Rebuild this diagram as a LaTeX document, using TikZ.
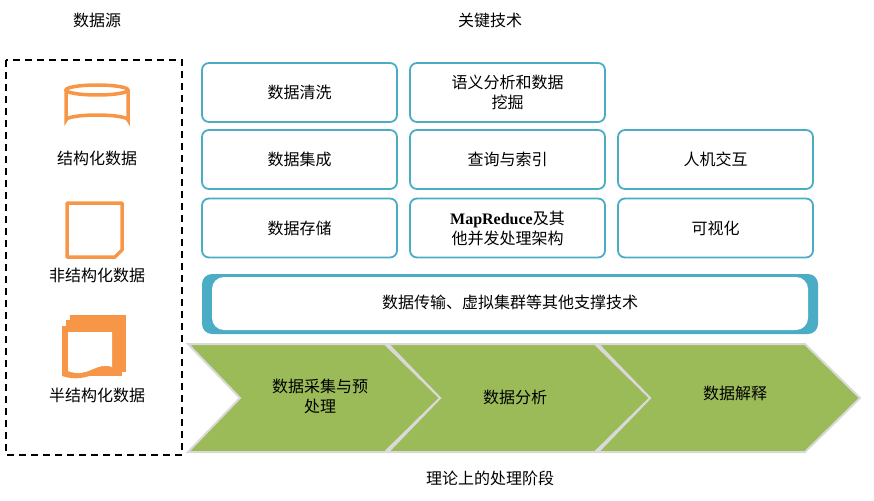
\documentclass[tikz,border=0pt]{standalone}
\usepackage{fontspec}
\setmainfont{Noto Sans CJK SC}
\newfontfamily\serifb{Liberation Serif}
\usetikzlibrary{shapes.geometric}
\definecolor{bl}{HTML}{4BACC6}
\definecolor{og}{HTML}{F79646}
\definecolor{gr}{HTML}{9BBB59}
\begin{document}
\begin{tikzpicture}[x=1pt,y=-1pt,font=\fontsize{16}{20}\selectfont,
  tbox/.style={draw=bl,line width=1.8pt,rounded corners=7pt,fill=white,minimum width=195pt,minimum height=59pt,align=center,text width=150pt},
  chev/.style={fill=gr,draw=black!15,line width=2pt}]
\useasboundingbox (0,0) rectangle (874,500);
\node (t1) at (97,20) {数据源};
\node (t2) at (490,20) {关键技术};
\node (t3) at (490,478) {理论上的处理阶段};
\draw[dash pattern=on 7pt off 5pt,line width=1.5pt] (6,60) rectangle (182,455);
% icons
\draw[og,line width=3.5pt] (66,90) -- (66,120) arc[start angle=180,end angle=360,x radius=31,y radius=5] -- (128,90);
\draw[og,line width=3.5pt] (97,90) ellipse[x radius=31,y radius=5];
\node (s1) at (97,158) {结构化数据};
\draw[og,line width=3.5pt,line join=round] (67,203) -- (122,203) -- (122,250) -- (115,257) -- (67,257) -- cycle;
\node (s2) at (97,275) {非结构化数据};
\fill[og] (70,315) rectangle (126,372);
\fill[og] (66,320) rectangle (122,376);
\fill[og] (62,326) -- (118,326) -- (118,372) .. controls (100,364) and (90,385) .. (62,376) -- cycle;
\fill[white] (68,332) -- (112,332) -- (112,367) .. controls (96,361) and (88,379) .. (68,371) -- cycle;
\node (s3) at (97,395) {半结构化数据};
% boxes
\node[tbox] (a1) at (299.5,92.5) {数据清洗};
\node[tbox] (a2) at (507.5,92.5) {语义分析和数据\\挖掘};
\node[tbox] (b1) at (299.5,159.5) {数据集成};
\node[tbox] (b2) at (507.5,159.5) {查询与索引};
\node[tbox] (b3) at (715.5,159.5) {人机交互};
\node[tbox] (c1) at (299.5,228) {数据存储};
\node[tbox] (c2) at (507.5,228) {{\serifb\bfseries MapReduce}及其\\他并发处理架构};
\node[tbox] (c3) at (715.5,228) {可视化};
% support bar
\fill[bl,rounded corners=10pt] (202,274) rectangle (818,334);
\fill[white,rounded corners=12pt] (212,277) rectangle (808,330);
\node (sp) at (510,302) {数据传输、虚拟集群等其他支撑技术};
% chevrons
\draw[chev] (598,344) -- (805,344) -- (860,398) -- (805,452) -- (598,452) -- (650,398) -- cycle;
\draw[chev] (388,344) -- (595,344) -- (650,398) -- (595,452) -- (388,452) -- (440,398) -- cycle;
\draw[chev] (188,344) -- (385,344) -- (440,398) -- (385,452) -- (188,452) -- (240,398) -- cycle;
\node[align=center] (p1) at (320,396) {数据采集与预\\处理};
\node (p2) at (515,397) {数据分析};
\node (p3) at (735,393) {数据解释};
\end{tikzpicture}
\end{document}
